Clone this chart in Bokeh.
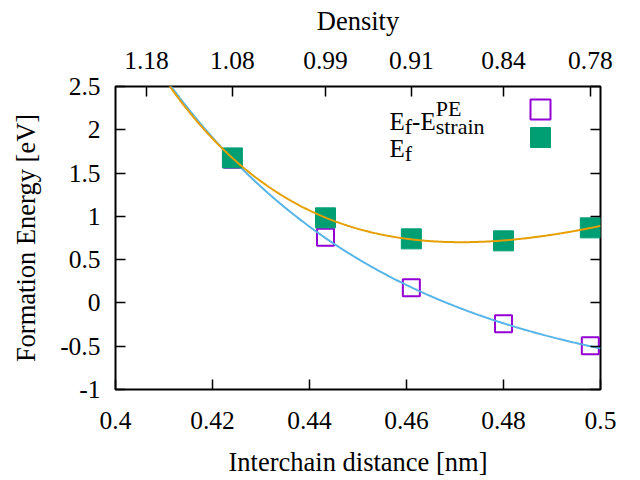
import numpy as np
from bokeh.plotting import figure
from bokeh.models import (LinearAxis, FixedTicker, Range1d, Label, Legend, LegendItem)
from bokeh.embed import file_html
from bokeh.resources import INLINE

# ---- data ----
dist_ef = [0.4241, 0.4433, 0.4610, 0.4800, 0.4979]
ef = [1.675, 0.983, 0.740, 0.717, 0.867]
dist_strain = [0.4241, 0.4433, 0.4610, 0.4800, 0.4979]
ef_minus_strain = [1.660, 0.759, 0.174, -0.241, -0.495]

x_ticks = [0.40, 0.42, 0.44, 0.46, 0.48, 0.50]
x_labels = ["0.4", "0.42", "0.44", "0.46", "0.48", "0.5"]
y_ticks = [-1, -0.5, 0, 0.5, 1, 1.5, 2, 2.5]
y_labels = ["-1", "-0.5", "0", "0.5", "1", "1.5", "2", "2.5"]
density_pos = [0.4064, 0.4241, 0.4433, 0.4610, 0.4800, 0.4979]
density_labels = ["1.18", "1.08", "0.99", "0.91", "0.84", "0.78"]

FONT = "Liberation Serif"
FS_TICK = "25.5px"
FS_LAB = "26.5px"
GREEN = "#009e73"
PURPLE = "#9400d3"
ORANGE = "#e69f00"
BLUE = "#56b4e9"

p = figure(width=640, height=480, output_backend="svg", toolbar_location=None,
           x_range=Range1d(0.4, 0.5), y_range=Range1d(-1, 2.5),
           min_border_left=115, min_border_right=40, min_border_top=86, min_border_bottom=91,
           x_axis_location=None, y_axis_location=None)
p.grid.visible = False
p.outline_line_color = "black"
p.outline_line_width = 2
p.background_fill_color = "white"
p.border_fill_color = "white"


def style_axis(ax, ticks, labels=None, show_labels=True):
    ax.ticker = FixedTicker(ticks=ticks)
    if labels is not None:
        ax.major_label_overrides = {v: s for v, s in zip(ticks, labels)}
    ax.axis_line_color = None
    ax.major_tick_in = 10
    ax.major_tick_out = 0
    ax.major_tick_line_width = 1.5
    ax.major_tick_line_color = "black"
    ax.minor_tick_line_color = None
    ax.major_label_text_font = FONT
    ax.major_label_text_font_size = FS_TICK
    ax.major_label_text_color = "black" if show_labels else None
    ax.axis_label_text_font = FONT
    ax.axis_label_text_font_size = FS_LAB
    ax.axis_label_text_font_style = "normal"
    ax.axis_label_text_color = "black"


xb = LinearAxis(axis_label="Interchain distance [nm]")
style_axis(xb, x_ticks, x_labels)
xb.major_label_standoff = 22
xb.axis_label_standoff = 15
p.add_layout(xb, "below")

yl = LinearAxis(axis_label="Formation Energy [eV]")
style_axis(yl, y_ticks, y_labels)
yl.major_label_standoff = 15
yl.axis_label_standoff = 16
p.add_layout(yl, "left")

yr = LinearAxis()
style_axis(yr, y_ticks, show_labels=False)
yr.major_label_text_font_size = "0px"
p.add_layout(yr, "right")

xt = LinearAxis(axis_label="Density")
style_axis(xt, density_pos, density_labels)
xt.major_label_standoff = 18
xt.axis_label_standoff = 13
p.add_layout(xt, "above")


# ---- fitted curves: least-squares fit  A*exp(-b*x) + c (+ d*x) to the data ----
def exp_fit(x, y, linear):
    x = np.asarray(x, float)
    y = np.asarray(y, float)
    best = None
    for b in np.linspace(1, 150, 3000):
        cols = [np.exp(-b * (x - 0.4)), np.ones_like(x)]
        if linear:
            cols.append(x - 0.4)
        M = np.column_stack(cols)
        coef, *_ = np.linalg.lstsq(M, y, rcond=None)
        sse = float(np.sum((M @ coef - y) ** 2))
        if best is None or sse < best[0]:
            best = (sse, b, coef)
    _, b, coef = best

    def f(t):
        cols = [np.exp(-b * (t - 0.4)), np.ones_like(t)]
        if linear:
            cols.append(t - 0.4)
        return np.column_stack(cols) @ coef
    return f


xs = np.linspace(0.4, 0.5, 500)
fit_strain = exp_fit(dist_strain, ef_minus_strain, linear=False)(xs)
fit_ef = exp_fit(dist_ef, ef, linear=True)(xs)

r_open = p.scatter(dist_strain, ef_minus_strain, marker="square", size=17,
                   fill_color=None, line_color=PURPLE, line_width=2)
p.line(xs, fit_strain, line_color=BLUE, line_width=2)
r_fill = p.scatter(dist_ef, ef, marker="square", size=20,
                   fill_color=GREEN, line_color=GREEN, line_width=1)
p.line(xs, fit_ef, line_color=ORANGE, line_width=2)

# ---- legend keys ----
for r, loc in ((r_open, (400, 255)), (r_fill, (400, 227))):
    lg = Legend(items=[LegendItem(label=" ", renderers=[r])], location=loc,
                glyph_width=50, glyph_height=50, padding=0, margin=0, spacing=0,
                label_standoff=0, label_width=0, label_height=10,
                label_text_font_size="1px", border_line_color=None,
                background_fill_alpha=0)
    p.add_layout(lg, "center")

# ---- legend texts (E_f-E^PE_strain, E_f) ----
FS = "25px"
SUB = "22px"
def lab(x, y, t, size):
    p.add_layout(Label(x=x, y=y, x_units="screen", y_units="screen", text=t,
                       text_font=FONT, text_font_size=size, text_color="black",
                       text_baseline="alphabetic", text_align="left"))

b1 = 268
lab(274, b1, "E", FS)
lab(289.3, b1 - 5, "f", SUB)
lab(296.6, b1, "-", FS)
lab(304.9, b1, "E", FS)
lab(320.2, b1 + 13, "PE", SUB)
lab(320.2, b1 - 5, "strain", SUB)

b2 = 241
lab(274, b2, "E", FS)
lab(289.3, b2 - 5, "f", SUB)

open("out.html", "w").write(file_html(p, INLINE))
